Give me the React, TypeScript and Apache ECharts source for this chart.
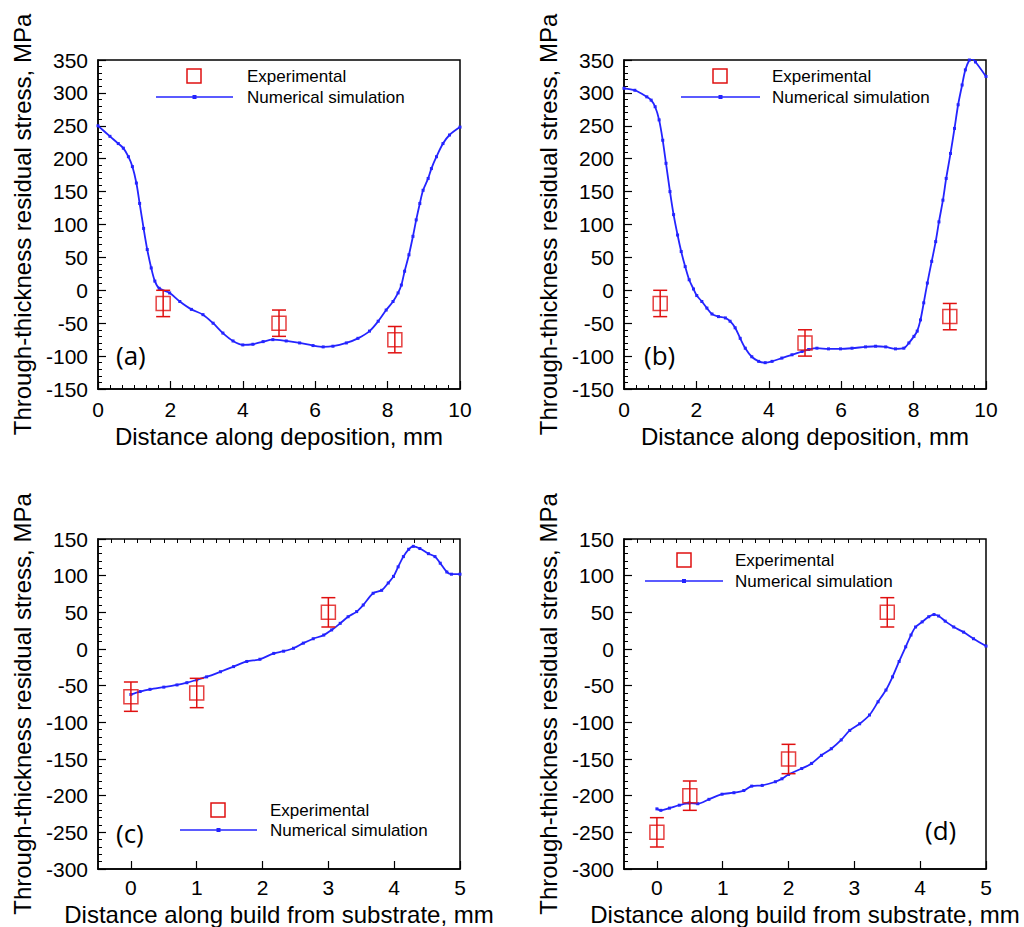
import React, { useEffect, useRef } from "react";
import * as echarts from "echarts";

// ---------- Data ----------
// Panel (a): distance along deposition (mm) vs stress (MPa)
const simA: [number, number][] = [
  [0, 250], [0.33, 234], [0.56, 223], [0.7, 216], [0.84, 203], [0.95, 188], [1.06, 163], [1.15, 132],
  [1.26, 94], [1.36, 62], [1.47, 34], [1.57, 14], [1.69, 3], [1.98, -4], [2.26, -17], [2.58, -29],
  [2.9, -37], [3.18, -50], [3.45, -65], [3.73, -77], [4.0, -83], [4.28, -82], [4.56, -78], [4.83, -75],
  [5.2, -77], [5.57, -80], [5.94, -84], [6.22, -86], [6.49, -85], [6.86, -80], [7.18, -73], [7.5, -62],
  [7.74, -47], [7.96, -30], [8.15, -17], [8.29, -4], [8.38, 8], [8.47, 29], [8.59, 54], [8.7, 82],
  [8.79, 107], [8.89, 132], [8.98, 152], [9.12, 170], [9.21, 185], [9.35, 203], [9.53, 223], [9.71, 236],
  [10, 248],
];
const expA: [number, number][] = [[1.8, -20], [5, -50], [8.2, -75]];
const errA: number[] = [20, 20, 20];

// Panel (b)
const simB: [number, number][] = [
  [0, 307], [0.3, 304], [0.63, 294], [0.75, 289], [0.86, 279], [0.97, 259], [1.07, 228], [1.16, 193],
  [1.27, 150], [1.37, 115], [1.48, 84], [1.58, 59], [1.69, 36], [1.8, 16], [1.92, 2], [2.01, -8],
  [2.15, -17], [2.29, -27], [2.43, -36], [2.61, -40], [2.8, -42], [2.93, -47], [3.07, -57], [3.21, -73],
  [3.35, -88], [3.53, -101], [3.72, -108], [3.9, -110], [4.09, -108], [4.36, -103], [4.64, -98], [4.92, -93],
  [5.1, -90], [5.33, -88], [5.65, -89], [5.98, -89], [6.3, -88], [6.67, -86], [6.95, -85], [7.23, -86],
  [7.5, -89], [7.73, -88], [7.87, -80], [8.01, -70], [8.1, -62], [8.19, -45], [8.28, -19], [8.38, 11],
  [8.5, 44], [8.61, 74], [8.7, 104], [8.81, 137], [8.9, 170], [9.02, 208], [9.13, 246], [9.23, 282],
  [9.34, 312], [9.43, 335], [9.54, 350], [9.6, 352], [9.71, 347], [10, 325],
];
const expB: [number, number][] = [[1, -20], [5, -80], [9, -40]];
const errB: number[] = [20, 20, 20];

// Panel (c): distance along build from substrate (mm)
const simC: [number, number][] = [
  [0, -62], [0.14, -58], [0.29, -55], [0.5, -52], [0.7, -49], [0.85, -46], [1.0, -42], [1.15, -38],
  [1.36, -31], [1.56, -24], [1.76, -17], [1.96, -14], [2.17, -6], [2.32, -3], [2.47, 1], [2.62, 8],
  [2.77, 14], [2.93, 19], [3.05, 26], [3.18, 35], [3.3, 44], [3.43, 51], [3.53, 60], [3.68, 76],
  [3.81, 80], [3.91, 90], [3.99, 99], [4.06, 112], [4.14, 126], [4.22, 136], [4.29, 140], [4.39, 137],
  [4.52, 130], [4.62, 126], [4.7, 117], [4.8, 105], [4.87, 102], [5.0, 102],
];
const expC: [number, number][] = [[0, -65], [1, -60], [3, 50]];
const errC: number[] = [20, 20, 20];

// Panel (d)
const simD: [number, number][] = [
  [0, -218], [0.06, -220], [0.19, -217], [0.34, -213], [0.49, -210], [0.62, -211], [0.79, -205], [0.99, -198],
  [1.17, -196], [1.32, -193], [1.44, -187], [1.6, -186], [1.8, -181], [1.9, -177], [2.0, -171], [2.2, -163],
  [2.35, -156], [2.5, -145], [2.65, -136], [2.8, -124], [2.93, -111], [3.08, -102], [3.23, -90], [3.36, -72],
  [3.48, -56], [3.58, -38], [3.68, -17], [3.78, 3], [3.86, 19], [3.93, 30], [4.03, 37], [4.13, 44],
  [4.21, 47], [4.28, 45], [4.38, 38], [4.51, 30], [4.66, 23], [4.81, 14], [5.0, 4],
];
const expD: [number, number][] = [[0, -250], [0.5, -200], [2, -150], [3.5, 50]];
const errD: number[] = [20, 20, 20, 20];

const ticksXBottom: number[] = [0, 1, 2, 3, 4, 5];

const labelsTop = ["(a)", "(b)"];
const labelsBottom = ["(c)", "(d)"];
const LEG_EXP = "Experimental";
const LEG_SIM = "Numerical simulation";
const Y_NAME = "Through-thickness residual stress, MPa";
const X_NAME_TOP = "Distance along deposition, mm";
const X_NAME_BOTTOM = "Distance along build from substrate, mm";

// ---------- Styles ----------
const BLUE = "#2424ff";
const RED = "#e01010";
const TICK_FONT = "'Liberation Sans', Arial, sans-serif";
const TITLE_FONT = "'Liberation Sans', Arial, sans-serif";
const TICK_SIZE = 21;
const TITLE_SIZE = 24;

const grids = [
  { left: 98, top: 60, width: 362, height: 329 },
  { left: 624, top: 60, width: 362, height: 329 },
  { left: 98, top: 539, width: 362, height: 330 },
  { left: 624, top: 539, width: 362, height: 330 },
];

function minorValues(min: number, max: number, step: number, majorStep: number): number[] {
  const out: number[] = [];
  const n = Math.round((max - min) / step);
  for (let i = 0; i <= n; i++) {
    const v = Math.round((min + i * step) * 1000) / 1000;
    const r = v / majorStep;
    if (Math.abs(r - Math.round(r)) > 1e-6 && v > min && v < max) out.push(v);
  }
  return out;
}

function baseAxisCommon() {
  return {
    type: "value" as const,
    splitLine: { show: false },
    axisLine: { show: true, onZero: false, lineStyle: { color: "#000", width: 1.5 } },
    axisTick: { show: true, inside: true, length: 8, lineStyle: { color: "#000", width: 1.2 } },
    minorTick: { show: true, splitNumber: 5, length: 4, lineStyle: { color: "#000", width: 1 } },
    axisLabel: { color: "#000", fontSize: TICK_SIZE, fontFamily: TICK_FONT, margin: 10 },
    nameTextStyle: { color: "#000", fontSize: TITLE_SIZE, fontFamily: TITLE_FONT },
    nameLocation: "middle" as const,
  };
}

function errData(exp: [number, number][], err: number[]) {
  return exp.map((p, i) => [p[0], p[1] - err[i], p[1] + err[i]]);
}

function errorSeries(exp: [number, number][], err: number[], xi: number, yi: number) {
  return {
    type: "custom",
    xAxisIndex: xi,
    yAxisIndex: yi,
    encode: { x: 0, y: [1, 2] },
    data: errData(exp, err),
    z: 3,
    renderItem: (params: any, api: any) => {
      const x = api.value(0);
      const lo = api.coord([x, api.value(1)]);
      const hi = api.coord([x, api.value(2)]);
      const w = 7;
      const st = { stroke: RED, lineWidth: 1.5 };
      return {
        type: "group",
        children: [
          { type: "line", shape: { x1: lo[0], y1: lo[1], x2: hi[0], y2: hi[1] }, style: st },
          { type: "line", shape: { x1: lo[0] - w, y1: lo[1], x2: lo[0] + w, y2: lo[1] }, style: st },
          { type: "line", shape: { x1: hi[0] - w, y1: hi[1], x2: hi[0] + w, y2: hi[1] }, style: st },
        ],
      };
    },
  };
}

function expSeries(exp: [number, number][], xi: number, yi: number) {
  return {
    type: "scatter",
    name: LEG_EXP,
    xAxisIndex: xi,
    yAxisIndex: yi,
    data: exp,
    symbol: "rect",
    symbolSize: 14,
    z: 4,
    itemStyle: { color: "rgba(0,0,0,0)", borderColor: RED, borderWidth: 1.5 },
  };
}

function simSeries(sim: [number, number][], xi: number, yi: number) {
  return {
    type: "line",
    name: LEG_SIM,
    xAxisIndex: xi,
    yAxisIndex: yi,
    data: sim,
    smooth: 0.3,
    symbol: "rect",
    symbolSize: 3,
    showSymbol: true,
    clip: true,
    z: 2,
    lineStyle: { color: BLUE, width: 1.8 },
    itemStyle: { color: BLUE },
  };
}

function legendGroup(sqX: number, sqY: number, lineX0: number, lineX1: number, lineY: number, textX: number) {
  const mid = (lineX0 + lineX1) / 2;
  return {
    type: "group",
    children: [
      { type: "rect", shape: { x: sqX - 7, y: sqY - 7, width: 14, height: 14 }, style: { fill: "none", stroke: RED, lineWidth: 1.5 } },
      { type: "line", shape: { x1: lineX0, y1: lineY, x2: lineX1, y2: lineY }, style: { stroke: BLUE, lineWidth: 1.6 } },
      { type: "rect", shape: { x: mid - 2, y: lineY - 2, width: 4, height: 4 }, style: { fill: BLUE } },
      { type: "text", x: textX, y: sqY, style: { text: LEG_EXP, fontSize: 17, fontFamily: TICK_FONT, fill: "#000", align: "left", verticalAlign: "middle" } },
      { type: "text", x: textX, y: lineY, style: { text: LEG_SIM, fontSize: 17, fontFamily: TICK_FONT, fill: "#000", align: "left", verticalAlign: "middle" } },
    ],
  };
}

function panelLabel(text: string, x: number, y: number) {
  return {
    type: "text",
    x,
    y,
    style: { text, fontSize: 26, fontFamily: "'Open Sans', 'Liberation Sans', sans-serif", fill: "#000", align: "left", verticalAlign: "middle" },
  };
}

export default function App() {
  const ref = useRef<HTMLDivElement>(null);

  useEffect(() => {
    document.body.style.margin = "0";
    if (!ref.current) return;
    const chart = echarts.init(ref.current, undefined, { renderer: "svg" });

    const minorCD = minorValues(-0.5, 5, 0.2, 1).filter((v) => v >= -0.45);
    const minorTickTop = { show: true, splitNumber: 6, length: 4, lineStyle: { color: "#000", width: 1 } };
    const majorTickBottom = { show: true, inside: true, length: 8, customValues: ticksXBottom, lineStyle: { color: "#000", width: 1.2 } };
    const labelBottom = { color: "#000", fontSize: TICK_SIZE, fontFamily: TICK_FONT, margin: 8, customValues: ticksXBottom };

    const xAxes: any[] = [
      { ...baseAxisCommon(), gridIndex: 0, min: 0, max: 10, interval: 2, name: X_NAME_TOP, nameGap: 35, minorTick: minorTickTop },
      { ...baseAxisCommon(), gridIndex: 1, min: 0, max: 10, interval: 2, name: X_NAME_TOP, nameGap: 35, minorTick: minorTickTop },
      { ...baseAxisCommon(), gridIndex: 2, min: -0.5, max: 5, name: X_NAME_BOTTOM, nameGap: 33,
        minorTick: { show: false }, axisTick: majorTickBottom, axisLabel: labelBottom },
      { ...baseAxisCommon(), gridIndex: 3, min: -0.5, max: 5, name: X_NAME_BOTTOM, nameGap: 33,
        minorTick: { show: false }, axisTick: majorTickBottom, axisLabel: labelBottom },
      { type: "value", gridIndex: 2, min: -0.5, max: 5, splitLine: { show: false },
        axisLine: { show: false, onZero: false }, axisLabel: { show: false },
        axisTick: { show: true, inside: true, length: 4, customValues: minorCD, lineStyle: { color: "#000", width: 1 } } },
      { type: "value", gridIndex: 3, min: -0.5, max: 5, splitLine: { show: false },
        axisLine: { show: false, onZero: false }, axisLabel: { show: false },
        axisTick: { show: true, inside: true, length: 4, customValues: minorCD, lineStyle: { color: "#000", width: 1 } } },
    ];

    const yAxes: any[] = [
      { ...baseAxisCommon(), gridIndex: 0, min: -150, max: 350, interval: 50, name: Y_NAME, nameGap: 64 },
      { ...baseAxisCommon(), gridIndex: 1, min: -150, max: 350, interval: 50, name: Y_NAME, nameGap: 64 },
      { ...baseAxisCommon(), gridIndex: 2, min: -300, max: 150, interval: 50, name: Y_NAME, nameGap: 64 },
      { ...baseAxisCommon(), gridIndex: 3, min: -300, max: 150, interval: 50, name: Y_NAME, nameGap: 64 },
    ];

    const option: any = {
      animation: false,
      backgroundColor: "#fff",
      grid: grids.map((g) => ({ ...g, show: true, borderColor: "#000", borderWidth: 1.5, backgroundColor: "rgba(0,0,0,0)", containLabel: false })),
      xAxis: xAxes,
      yAxis: yAxes,
      series: [
        simSeries(simA, 0, 0), errorSeries(expA, errA, 0, 0), expSeries(expA, 0, 0),
        simSeries(simB, 1, 1), errorSeries(expB, errB, 1, 1), expSeries(expB, 1, 1),
        simSeries(simC, 2, 2), errorSeries(expC, errC, 2, 2), expSeries(expC, 2, 2),
        simSeries(simD, 3, 3), errorSeries(expD, errD, 3, 3), expSeries(expD, 3, 3),
      ],
      graphic: [
        legendGroup(194, 76, 156, 233, 97, 247),
        legendGroup(720, 76, 681, 760, 97, 772),
        legendGroup(218, 810, 180, 257, 830, 270),
        legendGroup(684, 560, 645, 723, 581, 735),
        panelLabel(labelsTop[0], 116, 355),
        panelLabel(labelsTop[1], 644, 355),
        panelLabel(labelsBottom[0], 116, 833),
        panelLabel(labelsBottom[1], 925, 830),
      ],
    };
    chart.setOption(option);
    return () => chart.dispose();
  }, []);

  return <div ref={ref} style={{ width: 1024, height: 927 }} />;
}
